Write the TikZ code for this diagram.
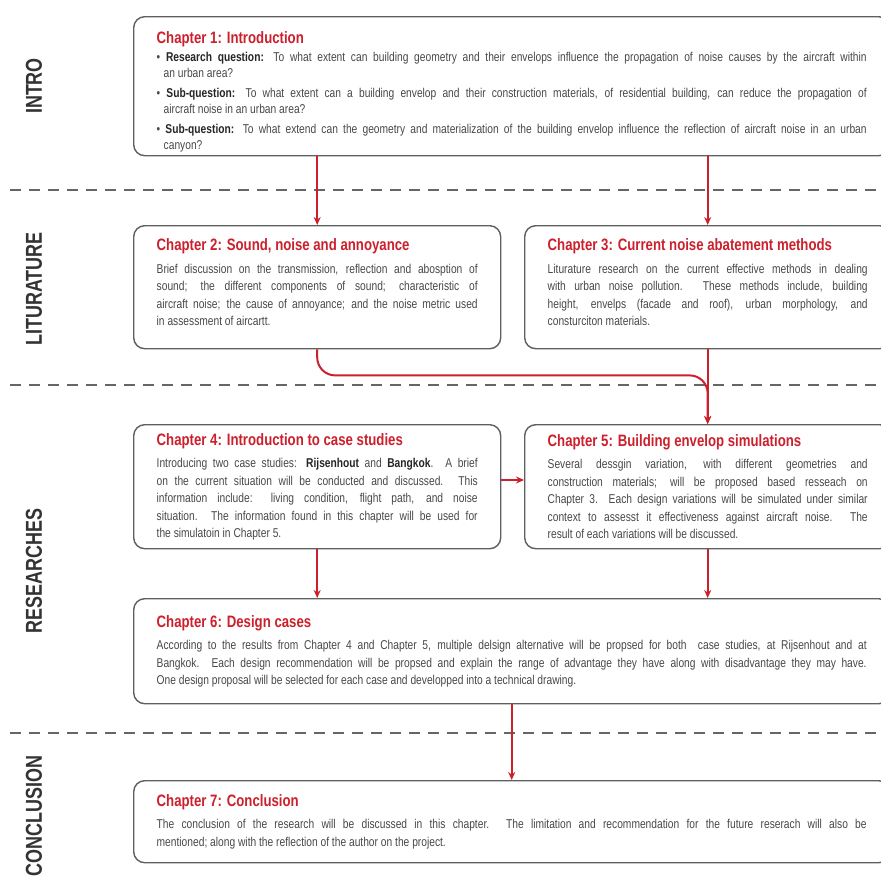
\documentclass[tikz,border=0pt]{standalone}
\usepackage{fontspec}
\setmainfont{Liberation Sans}[FakeStretch=0.8]
\newfontfamily\sidefont{Liberation Sans}[FakeStretch=0.78]
\usepackage{xcolor}
\usetikzlibrary{arrows.meta,positioning}

\definecolor{chapred}{RGB}{204,32,44}
\definecolor{boxgray}{RGB}{95,95,95}
\definecolor{txtgray}{RGB}{72,72,72}

\newcommand{\chtitle}[1]{{\fontsize{16.5}{18}\selectfont\bfseries\color{chapred}#1\par}\vspace{5pt}}
\newcommand{\chquestion}[2]{\noindent\hangindent=7pt\hangafter=1 \textbullet\ \textbf{\color{black!85}#1} #2\par}

\begin{document}
\begin{tikzpicture}[x=1pt,y=-1pt,>={Stealth[length=8pt,width=7pt]}]
		\tikzstyle{chapter}=[rectangle, rounded corners=11pt, draw=boxgray, line width=1.4pt, fill=white, anchor=north west, inner xsep=23pt, inner ysep=6pt, align=justify, text=txtgray, font=\fontsize{12.8}{17.5}\selectfont]
		\tikzstyle{phase}=[rotate=90, font=\sidefont\bfseries\fontsize{23}{24}\selectfont, text=black!80]
		\tikzstyle{split}=[dash pattern=on 11pt off 8pt, draw=black!60, line width=1.1pt]
		\tikzstyle{flow}=[->, draw=chapred, fill=chapred, line width=2pt]

		\useasboundingbox (0,0) rectangle (881,878);
		\clip (0,0) rectangle (881,878);

		% phases
		\node[phase] (intro) at (34,86)  {INTRO};
		\node[phase] (lit)   at (34,289) {LITURATURE};
		\node[phase] (res)   at (34,571) {RESEARCHES};
		\node[phase] (conc)  at (34,816) {CONCLUSION};

		\draw[split] (10,190) -- (881,190);
		\draw[split] (10,385) -- (881,385);
		\draw[split] (10,733) -- (881,733);

		% chapters
		\node[chapter, text width=710pt, minimum height=139pt, font=\fontsize{12.8}{16}\selectfont] (1) at (133,16) {\chtitle{Chapter 1: Introduction}\vspace{-3pt}
			\chquestion{Research question:}{To what extent can building geometry and their envelops influence the propagation of noise causes by the aircraft within\linebreak an urban area?}
			\vspace{4pt}
			\chquestion{Sub-question:}{To what extent can a building envelop and their construction materials, of residential building, can reduce the propagation of\linebreak aircraft noise in an urban area?}
			\vspace{4pt}
			\chquestion{Sub-question:}{To what extend can the geometry and materialization of the building envelop influence the reflection of aircraft noise in an urban\linebreak canyon?}\vspace{-12pt}};
		\node[chapter, text width=321pt, minimum height=123pt] (2) at (133,225) {\chtitle{Chapter 2: Sound, noise and annoyance}
			Brief discussion on the transmission, reflection and abosption of\linebreak sound; the different components of sound; characteristic of\linebreak aircraft noise; the cause of annoyance; and the noise metric used\linebreak in assessment of aircartt.\par\vspace{10pt}};
		\node[chapter, text width=320pt, minimum height=123pt] (3) at (524,225) {\chtitle{Chapter 3: Current noise abatement methods}
			Liturature research on the current effective methods in dealing\linebreak with urban noise pollution. These methods include, building\linebreak height, envelps (facade and roof), urban morphology, and\linebreak consturciton materials.\par\vspace{10pt}};
		\node[chapter, text width=321pt, minimum height=124pt] (4) at (133,424) {\chtitle{Chapter 4: Introduction to case studies}
			Introducing two case studies: \textbf{\color{black!85}Rijsenhout} and \textbf{\color{black!85}Bangkok}. A brief\linebreak on the current situation will be conducted and discussed. This\linebreak information include: living condition, flight path, and noise\linebreak situation. The information found in this chapter will be used for\linebreak the simulatoin in Chapter 5.};
		\node[chapter, text width=320pt, minimum height=124pt] (5) at (524,424) {\chtitle{Chapter 5: Building envelop simulations}
			Several dessgin variation, with different geometries and\linebreak construction materials; will be proposed based resseach on\linebreak Chapter 3. Each design variations will be simulated under similar\linebreak context to assesst it effectiveness against aircraft noise. The\linebreak result of each variations will be discussed.};
		\node[chapter, text width=710pt, minimum height=105pt] (6) at (133,598) {\chtitle{Chapter 6: Design cases}
			According to the results from Chapter 4 and Chapter 5, multiple delsign alternative will be propsed for both\ \ case studies, at Rijsenhout and at\linebreak Bangkok. Each design recommendation will be propsed and explain the range of advantage they have along with disadvantage they may have.\linebreak One design proposal will be selected for each case and developped into a technical drawing.};
		\node[chapter, text width=710pt, minimum height=82pt] (7) at (133,780) {\chtitle{Chapter 7: Conclusion}
			The conclusion of the research will be discussed in this chapter. The limitation and recommendation for the future reserach will also be\linebreak mentioned; along with the reflection of the author on the project.};

		% flow
		\path (3.south) ++(0,26) coordinate (bend);
		\draw[flow] (1.south -| 2.north) -- (2.north);
		\draw[flow] (1.south -| 3.north) -- (3.north);
		\draw[flow, fill=none, rounded corners=18pt] (2.south) |- (bend) -- (5.north);
		\draw[flow] (3.south) -- (5.north);
		\draw[flow] (4.east |- 0,480) -- (5.west |- 0,480);
		\draw[flow] (4.south) -- (4.south |- 6.north);
		\draw[flow] (5.south) -- (5.south |- 6.north);
		\draw[flow] (6.south) -- (7.north);
\end{tikzpicture}
\end{document}
